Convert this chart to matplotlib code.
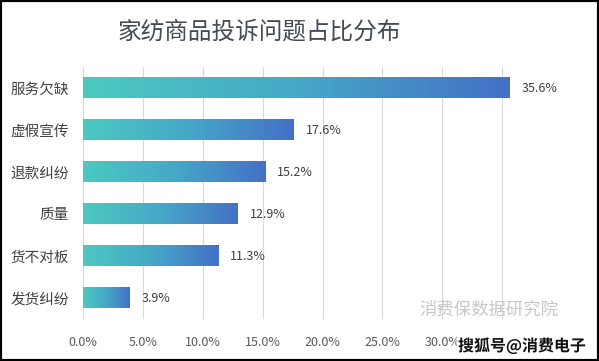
import numpy as np
import matplotlib.pyplot as plt
from matplotlib.colors import LinearSegmentedColormap
from matplotlib.patches import Rectangle
import matplotlib.patheffects as pe

plt.rcParams['font.family'] = ['Noto Sans CJK SC', 'DejaVu Sans']

categories = ['服务欠缺', '虚假宣传', '退款纠纷', '质量', '货不对板', '发货纠纷']
values = [35.6, 17.6, 15.2, 12.9, 11.3, 3.9]
xticks = [0, 5, 10, 15, 20, 25, 30, 35, 40]
# 35% and 40% labels sit under the watermark in the original
xticklabels = ['0.0%', '5.0%', '10.0%', '15.0%', '20.0%', '25.0%', '30.0%', '', '']

cmap = LinearSegmentedColormap.from_list('bar', ['#4cc9c0', '#46a8c8', '#4470c6'])

fig = plt.figure(figsize=(5.99, 3.61), dpi=100)
ax = fig.add_axes([83 / 599, 1 - 319 / 361, 479 / 599, 252 / 361])

bar_h = 0.49
grad = np.linspace(0, 1, 256).reshape(1, -1)
for i, (cat, v) in enumerate(zip(categories, values)):
    ax.imshow(grad, extent=[0, v, i + bar_h / 2, i - bar_h / 2], aspect='auto',
              cmap=cmap, zorder=3, interpolation='bicubic')
    ax.text(v + 1.0, i, '%.1f%%' % v, va='center', ha='left', fontsize=9,
            color='#404040', zorder=4)

ax.set_xlim(0, 40)
ax.set_ylim(len(categories) - 0.5, -0.5)
ax.set_xticks(xticks)
ax.set_xticklabels(xticklabels, fontsize=9, color='#595959')
ax.set_yticks(range(len(categories)))
ax.set_yticklabels(categories, fontsize=10.5, color='#404040')
ax.tick_params(length=0)
ax.tick_params(axis='x', pad=12)
ax.tick_params(axis='y', pad=10)
ax.grid(axis='x', color='#d9d9d9', linewidth=0.8, zorder=0)
for s in ax.spines.values():
    s.set_visible(False)

fig.text(259 / 599, 1 - 32 / 361, '家纺商品投诉问题占比分布', ha='center', va='center',
         fontsize=17, color='#454a52', fontweight='medium')

fig.text(489 / 599, 1 - 310 / 361, '消费保数据研究院', ha='center', va='center',
         fontsize=12.5, color='#c8c8c8')
fig.text(522 / 599, 1 - 346 / 361, '搜狐号@消费电子', ha='center', va='center',
         fontsize=11.5, color='#111111', fontweight='bold',
         path_effects=[pe.withStroke(linewidth=2.5, foreground='white')])

fig.patches.append(Rectangle((0, 0), 1, 1, transform=fig.transFigure, fill=False,
                             edgecolor='black', linewidth=3))

fig.savefig('out.png', dpi=100)
